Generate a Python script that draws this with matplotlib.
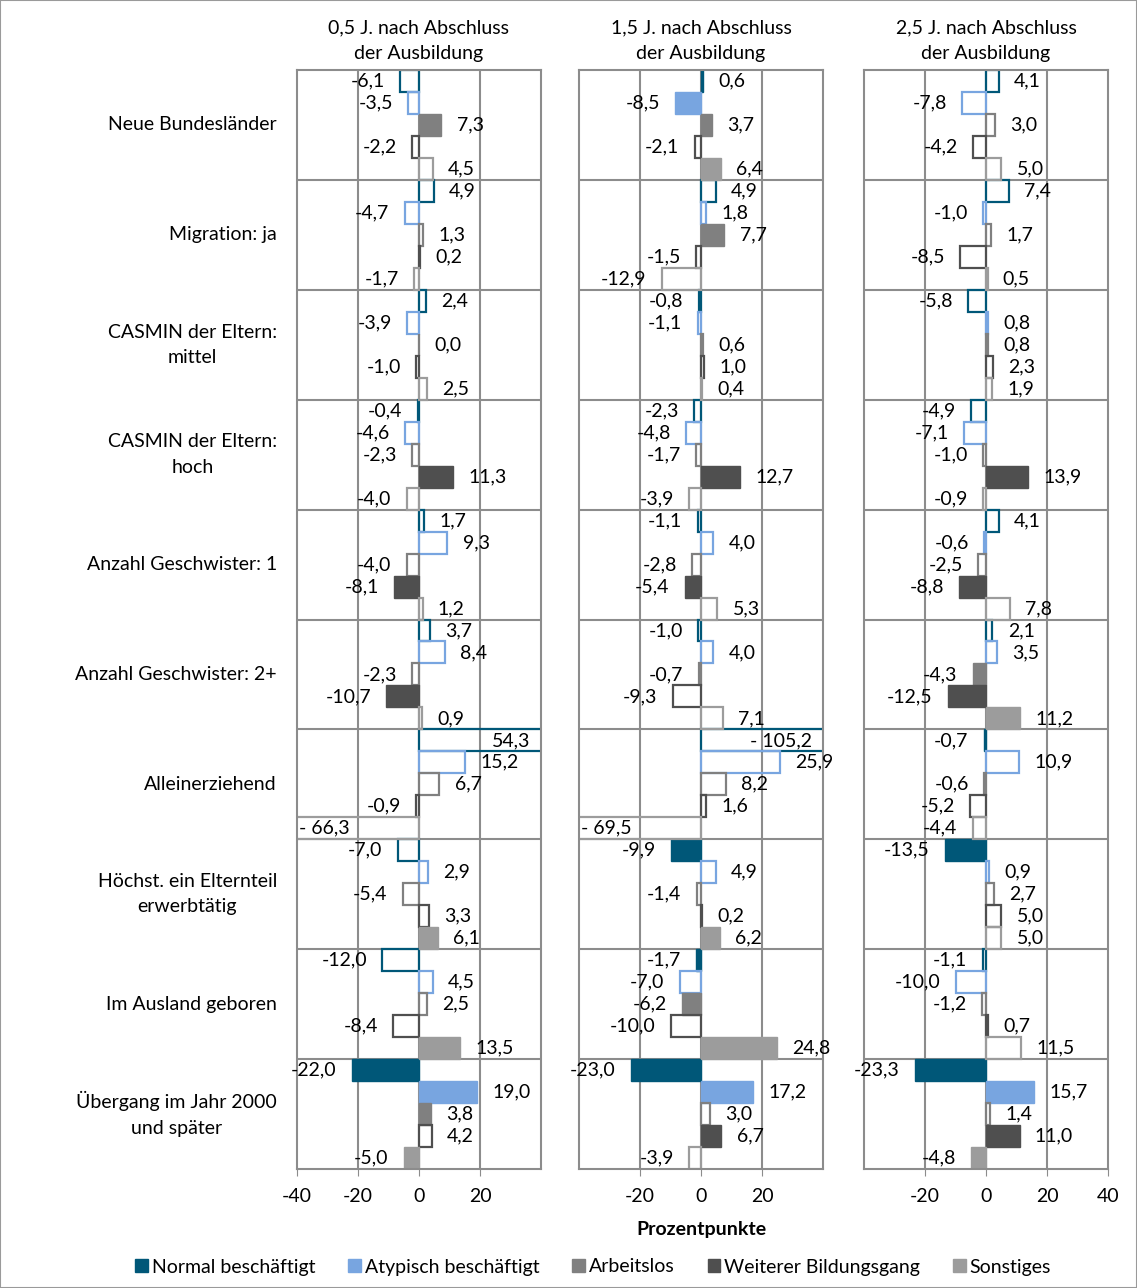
import matplotlib.pyplot as plt
from matplotlib.patches import Patch, Rectangle
import matplotlib.transforms as mtransforms
import numpy as np

plt.rcParams['font.family'] = ['Lato', 'DejaVu Sans']
plt.rcParams['font.size'] = 14

kategorien = ["Neue Bundesländer", "Migration: ja", "CASMIN der Eltern:\nmittel",
              "CASMIN der Eltern:\nhoch", "Anzahl Geschwister: 1", "Anzahl Geschwister: 2+",
              "Alleinerziehend", "Höchst. ein Elternteil\nerwerbtätig", "Im Ausland geboren",
              "Übergang im Jahr 2000\nund später"]
serien = ["Normal beschäftigt", "Atypisch beschäftigt", "Arbeitslos",
          "Weiterer Bildungsgang", "Sonstiges"]
farben = ["#005778", "#78A5E0", "#808080", "#4F4F4F", "#9C9C9C"]
titel = ["0,5 J. nach Abschluss\nder Ausbildung", "1,5 J. nach Abschluss\nder Ausbildung",
         "2,5 J. nach Abschluss\nder Ausbildung"]

# 0,5 Jahre
p05_normal = [-6.1, 4.9, 2.4, -0.4, 1.7, 3.7, 54.3, -7.0, -12.0, -22.0]
p05_atyp = [-3.5, -4.7, -3.9, -4.6, 9.3, 8.4, 15.2, 2.9, 4.5, 19.0]
p05_arbeitslos = [7.3, 1.3, 0.0, -2.3, -4.0, -2.3, 6.7, -5.4, 2.5, 3.8]
p05_bildung = [-2.2, 0.2, -1.0, 11.3, -8.1, -10.7, -0.9, 3.3, -8.4, 4.2]
p05_sonst = [4.5, -1.7, 2.5, -4.0, 1.2, 0.9, -66.3, 6.1, 13.5, -5.0]
# 1 = signifikant (gefuellter Balken)
p05_sig = [[0, 0, 0, 0, 0, 0, 0, 0, 0, 1],
           [0, 0, 0, 0, 0, 0, 0, 0, 0, 1],
           [1, 0, 0, 0, 0, 0, 0, 0, 0, 1],
           [0, 0, 0, 1, 1, 1, 0, 0, 0, 0],
           [0, 0, 0, 0, 0, 0, 0, 1, 1, 1]]

# 1,5 Jahre
p15_normal = [0.6, 4.9, -0.8, -2.3, -1.1, -1.0, 105.2, -9.9, -1.7, -23.0]
p15_atyp = [-8.5, 1.8, -1.1, -4.8, 4.0, 4.0, 25.9, 4.9, -7.0, 17.2]
p15_arbeitslos = [3.7, 7.7, 0.6, -1.7, -2.8, -0.7, 8.2, -1.4, -6.2, 3.0]
p15_bildung = [-2.1, -1.5, 1.0, 12.7, -5.4, -9.3, 1.6, 0.2, -10.0, 6.7]
p15_sonst = [6.4, -12.9, 0.4, -3.9, 5.3, 7.1, -69.5, 6.2, 24.8, -3.9]
p15_sig = [[1, 0, 0, 0, 0, 0, 0, 1, 1, 1],
           [1, 0, 0, 0, 0, 0, 0, 0, 0, 1],
           [1, 1, 0, 0, 0, 0, 0, 0, 1, 0],
           [0, 0, 0, 1, 1, 0, 0, 0, 0, 1],
           [1, 0, 0, 0, 0, 0, 0, 1, 1, 0]]

# 2,5 Jahre
p25_normal = [4.1, 7.4, -5.8, -4.9, 4.1, 2.1, -0.7, -13.5, -1.1, -23.3]
p25_atyp = [-7.8, -1.0, 0.8, -7.1, -0.6, 3.5, 10.9, 0.9, -10.0, 15.7]
p25_arbeitslos = [3.0, 1.7, 0.8, -1.0, -2.5, -4.3, -0.6, 2.7, -1.2, 1.4]
p25_bildung = [-4.2, -8.5, 2.3, 13.9, -8.8, -12.5, -5.2, 5.0, 0.7, 11.0]
p25_sonst = [5.0, 0.5, 1.9, -0.9, 7.8, 11.2, -4.4, 5.0, 11.5, -4.8]
p25_sig = [[0, 0, 0, 0, 0, 0, 1, 1, 0, 1],
           [0, 0, 0, 0, 0, 0, 0, 0, 0, 1],
           [0, 0, 0, 0, 0, 1, 0, 0, 0, 0],
           [0, 0, 0, 1, 1, 1, 0, 0, 0, 1],
           [0, 0, 0, 0, 0, 1, 0, 0, 0, 1]]

panels = [
    ([p05_normal, p05_atyp, p05_arbeitslos, p05_bildung, p05_sonst], p05_sig, [-40, -20, 0, 20]),
    ([p15_normal, p15_atyp, p15_arbeitslos, p15_bildung, p15_sonst], p15_sig, [-20, 0, 20]),
    ([p25_normal, p25_atyp, p25_arbeitslos, p25_bildung, p25_sonst], p25_sig, [-20, 0, 20, 40]),
]
# Beschriftungen der abgeschnittenen Balken (wie im Original)
sonder_labels = {(0, 4, 6): "- 66,3", (1, 0, 6): "- 105,2", (1, 4, 6): "- 69,5"}

W, H = 1137, 1288
fig = plt.figure(figsize=(W / 100, H / 100), dpi=100)
fig.patches.append(Rectangle((0, 0), 1, 1, transform=fig.transFigure, fill=False,
                             edgecolor="#9a9a9a", lw=1.5))

ax_left = [297, 579, 864]
ax_w = 244
ax_top, ax_bot = 70, 1169
gridfarbe = "#8c8c8c"
n = len(kategorien)

axes = []
for p, (werte, sig, ticks) in enumerate(panels):
    ax = fig.add_axes([ax_left[p] / W, 1 - ax_bot / H, ax_w / W, (ax_bot - ax_top) / H])
    axes.append(ax)
    ax.set_xlim(-40, 40)
    ax.set_ylim(n, 0)
    for gx in [-20, 0, 20]:
        ax.axvline(gx, color=gridfarbe, lw=1.5, zorder=0)
    for gy in range(1, n):
        ax.axhline(gy, color=gridfarbe, lw=1.5, zorder=0)
    for s in range(5):
        y = np.arange(n) + (s + 0.5) / 5
        for i in range(n):
            v = werte[s][i]
            if sig[s][i]:
                ax.barh(y[i], v, height=0.2, color=farben[s], edgecolor=farben[s], lw=1, zorder=2)
            else:
                ax.barh(y[i], v, height=0.2, facecolor="none", edgecolor=farben[s], lw=1.6, zorder=2)
            txt = sonder_labels.get((p, s, i), f"{v:.1f}".replace(".", ","))
            if v > 40:
                ax.text(36.5, y[i], txt, ha="right", va="center", zorder=3)
            elif v < -40:
                ax.text(-39.5, y[i], txt, ha="left", va="center", zorder=3)
            elif v >= 0:
                ax.annotate(txt, (v, y[i]), xytext=(11, 0), textcoords="offset points",
                            ha="left", va="center", zorder=3, annotation_clip=False)
            else:
                ax.annotate(txt, (v, y[i]), xytext=(-11, 0), textcoords="offset points",
                            ha="right", va="center", zorder=3, annotation_clip=False)
    ax.set_xticks(ticks)
    ax.set_xticklabels([str(t) for t in ticks])
    ax.set_yticks([])
    ax.tick_params(axis="x", length=5, color=gridfarbe, pad=9, labelsize=14)
    for sp in ax.spines.values():
        sp.set_color(gridfarbe)
        sp.set_linewidth(1.5)
    fig.text((ax_left[p] + ax_w / 2) / W, 1 - 41 / H, titel[p], ha="center", va="center",
             linespacing=1.6)

trans = mtransforms.blended_transform_factory(axes[0].transAxes, axes[0].transData)
for i, k in enumerate(kategorien):
    axes[0].text((277 - 297) / ax_w, i + 0.5, k, transform=trans, ha="right", va="center",
                 multialignment="center", linespacing=1.6)

fig.text(701 / W, 1 - 1229 / H, "Prozentpunkte", ha="center", va="center", fontweight="bold")

handles = [Patch(facecolor=c, edgecolor=c) for c in farben]
fig.legend(handles, serien, loc="center", bbox_to_anchor=(593 / W, 1 - 1267 / H), ncol=5,
           frameon=False, handlelength=0.65, handleheight=0.65, handletextpad=0.2,
           columnspacing=1.7, fontsize=14)

fig.savefig("out.png", dpi=100)
